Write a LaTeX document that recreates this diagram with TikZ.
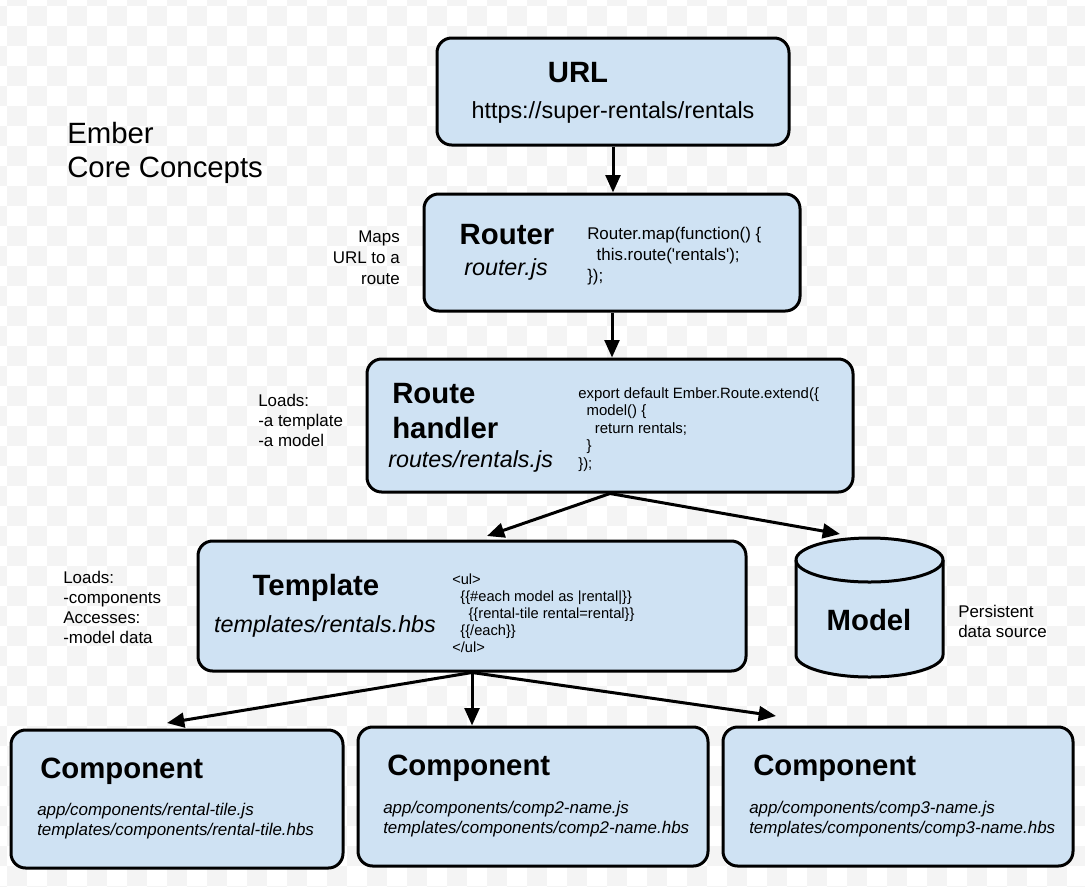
\documentclass[tikz,border=0pt]{standalone}
\usepackage{fontspec}
\setmainfont{Liberation Sans}
\usetikzlibrary{arrows.meta}
\definecolor{boxblue}{HTML}{CFE2F3}
\definecolor{checker}{HTML}{F4F4F4}
\newcommand{\ind}{\hspace*{0.556em}}

\begin{document}
\begin{tikzpicture}[x=0.75pt,y=-0.75pt,
    box/.style={draw,line width=2.25pt,rounded corners=11pt,fill=boxblue,inner sep=0pt},
    flow/.style={-{Triangle[length=13pt,width=11pt]},line width=2.25pt},
    title/.style={font=\fontsize{22}{26.25}\selectfont\bfseries,inner sep=0pt,anchor=base},
    file/.style={font=\fontsize{17.5}{21}\selectfont\itshape,inner sep=0pt,anchor=base},
    note/.style={font=\fontsize{12.7}{15}\selectfont,align=left,inner sep=0pt,anchor=base west}]
  \useasboundingbox (0,0) rectangle (1085,886);

  %% Checker background
  \begin{scope}
    \clip (0,0) rectangle (1085,886);
    \foreach \i in {-1,...,54}
      \foreach \j in {0,...,45}{
        \pgfmathtruncatemacro\odd{mod(\i+\j+2,2)}
        \ifnum\odd=0 \fill[checker] (7+20*\i,-14+20*\j) rectangle ++(20,20);\fi
      }
  \end{scope}

  \node[note,font=\fontsize{22}{25.5}\selectfont] (ember) at (67,177) {Ember\\Core Concepts};

  %% URL
  \node[box,minimum width=264pt,minimum height=80.25pt] (url) at (613,91.5) {};
  \node[title] (urlt) at (578,82) {URL};
  \node[inner sep=0pt,anchor=base,font=\fontsize{17.5}{21}\selectfont] (urla) at (613,118)
    {https://super-rentals/rentals};

  %% Router
  \node[box,minimum width=282pt,minimum height=87.75pt] (rtr) at (612,252.5) {};
  \node[title] (rtrt) at (507,244) {Router};
  \node[file] (rtrf) at (506,275) {router.js};
  \node[note,font=\fontsize{12.7}{15.75}\selectfont] (rtrc) at (587,281)
    {Router.map(function() \{\\
     \ind this.route(\textquotesingle rentals\textquotesingle);\\
     \});};
  \node[note,align=right,anchor=base east,font=\fontsize{12.7}{15.75}\selectfont] (rtrn) at (400,284)
    {Maps\\URL to a\\route};

  %% Route handler
  \node[box,minimum width=364.5pt,minimum height=99.75pt] (hdl) at (610,425.5) {};
  \node[title,align=left,anchor=base west] (hdlt) at (392,438) {Route\\handler};
  \node[file,anchor=base west] (hdlf) at (388,467) {routes/rentals.js};
  \node[note,font=\fontsize{11.2}{13.1}\selectfont] (hdlc) at (578,468)
    {export default Ember.Route.extend(\{\\
     \ind model() \{\\
     \ind\ind return rentals;\\
     \ind \}\\
     \});};
  \node[note] (hdln) at (258,446) {Loads:\\-a template\\-a model};

  %% Template
  \node[box,minimum width=411pt,minimum height=97.5pt] (tpl) at (472,606) {};
  \node[title] (tplt) at (316,595) {Template};
  \node[file] (tplf) at (325,632) {templates/rentals.hbs};
  \node[note,font=\fontsize{11}{12.75}\selectfont] (tplc) at (452,652)
    {<ul>\\
     \ind\{\{\#each model as |rental|\}\}\\
     \ind\ind\{\{rental-tile rental=rental\}\}\\
     \ind\{\{/each\}\}\\
     </ul>};
  \node[note] (tpln) at (63,643) {Loads:\\-components\\Accesses:\\-model data};

  %% Model
  \draw[line width=2.25pt,fill=boxblue]
    (796,560) -- (796,655) arc[start angle=180,end angle=360,x radius=55.125pt,y radius=16.5pt]
    -- (943,560) arc[start angle=0,end angle=180,x radius=55.125pt,y radius=16.5pt] -- cycle;
  \draw[line width=2.25pt]
    (796,560) arc[start angle=180,end angle=360,x radius=55.125pt,y radius=16.5pt];
  \node[title] (mdl) at (869,630) {Model};
  \node[note] (mdln) at (958,637) {Persistent\\data source};

  %% Components
  \node[box,minimum width=249pt,minimum height=103.5pt] (c1) at (177,799) {};
  \node[title,anchor=base west] (c1t) at (40,778) {Component};
  \node[note,font=\fontsize{12.7}{15}\selectfont\itshape] (c1f) at (37,835)
    {app/components/rental-tile.js\\templates/components/rental-tile.hbs};
  \node[box,minimum width=262.5pt,minimum height=104.25pt] (c2) at (533,796.5) {};
  \node[title,anchor=base west] (c2t) at (387,775) {Component};
  \node[note,font=\fontsize{12.7}{15}\selectfont\itshape] (c2f) at (383,833)
    {app/components/comp2-name.js\\templates/components/comp2-name.hbs};
  \node[box,minimum width=262.5pt,minimum height=104.25pt] (c3) at (898,796.5) {};
  \node[title,anchor=base west] (c3t) at (753,775) {Component};
  \node[note,font=\fontsize{12.7}{15}\selectfont\itshape] (c3f) at (749,833)
    {app/components/comp3-name.js\\templates/components/comp3-name.hbs};

  %% Arrows
  \coordinate (tplin) at (487,536);
  \coordinate (mdlin) at (840,534);
  \coordinate (c1in) at (167,723);
  \coordinate (c3in) at (776,716);
  \draw[flow] (url.south) -- (url.south |- rtr.north);
  \draw[flow] (rtr.south) -- (rtr.south |- hdl.north);
  \draw[flow] (hdl.south) -- (tplin);
  \draw[flow] (hdl.south) -- (mdlin);
  \draw[flow] (tpl.south) -- (c1in);
  \draw[flow] (tpl.south) -- (tpl.south |- c2.north);
  \draw[flow] (tpl.south) -- (c3in);
\end{tikzpicture}
\end{document}
